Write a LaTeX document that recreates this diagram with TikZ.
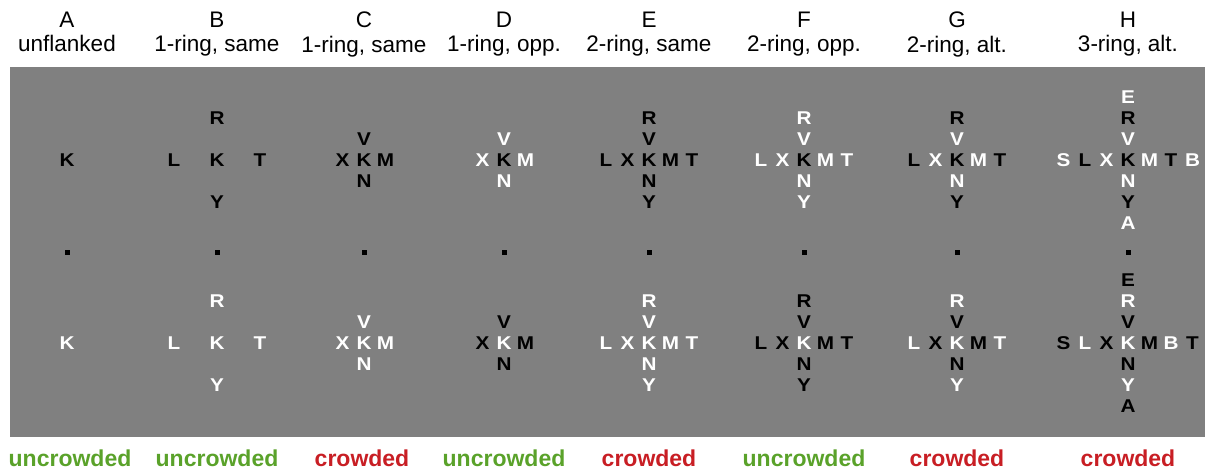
\documentclass[tikz,border=0pt]{standalone}
\usepackage{fontspec}
\setmainfont{Liberation Sans}
\newfontfamily\ltrfont{Liberation Sans}[FakeStretch=1.12]
\definecolor{okgreen}{RGB}{90,162,42}
\definecolor{badred}{RGB}{200,30,36}
\begin{document}
\begin{tikzpicture}[x=1pt,y=-1pt,
  ltr/.style={font=\ltrfont\bfseries\fontsize{18.5}{18.5}\selectfont, inner sep=0pt, text height=13.2pt, text depth=0pt},
  head/.style={font=\fontsize{22.5}{24.8}\selectfont, inner sep=0pt, align=center, anchor=north},
  lab/.style={font=\bfseries\fontsize{23}{23}\selectfont, inner sep=0pt, anchor=base},
  fixdot/.style={fill=black, minimum size=5pt, inner sep=0pt}]
\useasboundingbox (0,0) rectangle (1205,472);
\fill[gray] (10,67) rectangle (1205,437);
% column headings
\node[head] (hA) at (67,11.5) {A\\unflanked};
\node[head] (hB) at (217,11.5) {B\\1-ring, same};
\node[head] (hC) at (364,11.5) {C\\1-ring, same};
\node[head] (hD) at (504,11.5) {D\\1-ring, opp.};
\node[head] (hE) at (649,11.5) {E\\2-ring, same};
\node[head] (hF) at (804,11.5) {F\\2-ring, opp.};
\node[head] (hG) at (957,11.5) {G\\2-ring, alt.};
\node[head] (hH) at (1128,11.5) {H\\3-ring, alt.};
% fixation dots
\node[fixdot] (fA) at (67,252) {};
\node[fixdot] (fB) at (217,252) {};
\node[fixdot] (fC) at (364,252) {};
\node[fixdot] (fD) at (504,252) {};
\node[fixdot] (fE) at (649,252) {};
\node[fixdot] (fF) at (804,252) {};
\node[fixdot] (fG) at (957,252) {};
\node[fixdot] (fH) at (1128,252) {};
% A
\node[ltr,color=black] (At-K) at (67,160) {K};
\node[ltr,color=white] (Ab-K) at (67,343) {K};
% B
\node[ltr,color=black] (Bt-K) at (217,160) {K};
\node[ltr,color=black] (Bt-R) at (217,118) {R};
\node[ltr,color=black] (Bt-Y) at (217,202) {Y};
\node[ltr,color=black] (Bt-L) at (174,160) {L};
\node[ltr,color=black] (Bt-T) at (260,160) {T};
\node[ltr,color=white] (Bb-K) at (217,343) {K};
\node[ltr,color=white] (Bb-R) at (217,301) {R};
\node[ltr,color=white] (Bb-Y) at (217,385) {Y};
\node[ltr,color=white] (Bb-L) at (174,343) {L};
\node[ltr,color=white] (Bb-T) at (260,343) {T};
% C
\node[ltr,color=black] (Ct-K) at (364,160) {K};
\node[ltr,color=black] (Ct-V) at (364,139) {V};
\node[ltr,color=black] (Ct-N) at (364,181) {N};
\node[ltr,color=black] (Ct-X) at (342.5,160) {X};
\node[ltr,color=black] (Ct-M) at (385.5,160) {M};
\node[ltr,color=white] (Cb-K) at (364,343) {K};
\node[ltr,color=white] (Cb-V) at (364,322) {V};
\node[ltr,color=white] (Cb-N) at (364,364) {N};
\node[ltr,color=white] (Cb-X) at (342.5,343) {X};
\node[ltr,color=white] (Cb-M) at (385.5,343) {M};
% D
\node[ltr,color=black] (Dt-K) at (504,160) {K};
\node[ltr,color=white] (Dt-V) at (504,139) {V};
\node[ltr,color=white] (Dt-N) at (504,181) {N};
\node[ltr,color=white] (Dt-X) at (482.5,160) {X};
\node[ltr,color=white] (Dt-M) at (525.5,160) {M};
\node[ltr,color=white] (Db-K) at (504,343) {K};
\node[ltr,color=black] (Db-V) at (504,322) {V};
\node[ltr,color=black] (Db-N) at (504,364) {N};
\node[ltr,color=black] (Db-X) at (482.5,343) {X};
\node[ltr,color=black] (Db-M) at (525.5,343) {M};
% E
\node[ltr,color=black] (Et-K) at (649,160) {K};
\node[ltr,color=black] (Et-R) at (649,118) {R};
\node[ltr,color=black] (Et-V) at (649,139) {V};
\node[ltr,color=black] (Et-N) at (649,181) {N};
\node[ltr,color=black] (Et-Y) at (649,202) {Y};
\node[ltr,color=black] (Et-L) at (606,160) {L};
\node[ltr,color=black] (Et-X) at (627.5,160) {X};
\node[ltr,color=black] (Et-M) at (670.5,160) {M};
\node[ltr,color=black] (Et-T) at (692,160) {T};
\node[ltr,color=white] (Eb-K) at (649,343) {K};
\node[ltr,color=white] (Eb-R) at (649,301) {R};
\node[ltr,color=white] (Eb-V) at (649,322) {V};
\node[ltr,color=white] (Eb-N) at (649,364) {N};
\node[ltr,color=white] (Eb-Y) at (649,385) {Y};
\node[ltr,color=white] (Eb-L) at (606,343) {L};
\node[ltr,color=white] (Eb-X) at (627.5,343) {X};
\node[ltr,color=white] (Eb-M) at (670.5,343) {M};
\node[ltr,color=white] (Eb-T) at (692,343) {T};
% F
\node[ltr,color=black] (Ft-K) at (804,160) {K};
\node[ltr,color=white] (Ft-R) at (804,118) {R};
\node[ltr,color=white] (Ft-V) at (804,139) {V};
\node[ltr,color=white] (Ft-N) at (804,181) {N};
\node[ltr,color=white] (Ft-Y) at (804,202) {Y};
\node[ltr,color=white] (Ft-L) at (761,160) {L};
\node[ltr,color=white] (Ft-X) at (782.5,160) {X};
\node[ltr,color=white] (Ft-M) at (825.5,160) {M};
\node[ltr,color=white] (Ft-T) at (847,160) {T};
\node[ltr,color=white] (Fb-K) at (804,343) {K};
\node[ltr,color=black] (Fb-R) at (804,301) {R};
\node[ltr,color=black] (Fb-V) at (804,322) {V};
\node[ltr,color=black] (Fb-N) at (804,364) {N};
\node[ltr,color=black] (Fb-Y) at (804,385) {Y};
\node[ltr,color=black] (Fb-L) at (761,343) {L};
\node[ltr,color=black] (Fb-X) at (782.5,343) {X};
\node[ltr,color=black] (Fb-M) at (825.5,343) {M};
\node[ltr,color=black] (Fb-T) at (847,343) {T};
% G
\node[ltr,color=black] (Gt-K) at (957,160) {K};
\node[ltr,color=black] (Gt-R) at (957,118) {R};
\node[ltr,color=white] (Gt-V) at (957,139) {V};
\node[ltr,color=white] (Gt-N) at (957,181) {N};
\node[ltr,color=black] (Gt-Y) at (957,202) {Y};
\node[ltr,color=black] (Gt-L) at (914,160) {L};
\node[ltr,color=white] (Gt-X) at (935.5,160) {X};
\node[ltr,color=white] (Gt-M) at (978.5,160) {M};
\node[ltr,color=black] (Gt-T) at (1000,160) {T};
\node[ltr,color=white] (Gb-K) at (957,343) {K};
\node[ltr,color=white] (Gb-R) at (957,301) {R};
\node[ltr,color=black] (Gb-V) at (957,322) {V};
\node[ltr,color=black] (Gb-N) at (957,364) {N};
\node[ltr,color=white] (Gb-Y) at (957,385) {Y};
\node[ltr,color=white] (Gb-L) at (914,343) {L};
\node[ltr,color=black] (Gb-X) at (935.5,343) {X};
\node[ltr,color=black] (Gb-M) at (978.5,343) {M};
\node[ltr,color=white] (Gb-T) at (1000,343) {T};
% H
\node[ltr,color=black] (Ht-K) at (1128,160) {K};
\node[ltr,color=white] (Ht-E) at (1128,97) {E};
\node[ltr,color=black] (Ht-R) at (1128,118) {R};
\node[ltr,color=white] (Ht-V) at (1128,139) {V};
\node[ltr,color=white] (Ht-N) at (1128,181) {N};
\node[ltr,color=black] (Ht-Y) at (1128,202) {Y};
\node[ltr,color=white] (Ht-A) at (1128,223) {A};
\node[ltr,color=white] (Ht-S) at (1063.5,160) {S};
\node[ltr,color=black] (Ht-L) at (1085,160) {L};
\node[ltr,color=white] (Ht-X) at (1106.5,160) {X};
\node[ltr,color=white] (Ht-M) at (1149.5,160) {M};
\node[ltr,color=black] (Ht-T) at (1171,160) {T};
\node[ltr,color=white] (Ht-B) at (1192.5,160) {B};
\node[ltr,color=white] (Hb-K) at (1128,343) {K};
\node[ltr,color=black] (Hb-E) at (1128,280) {E};
\node[ltr,color=white] (Hb-R) at (1128,301) {R};
\node[ltr,color=black] (Hb-V) at (1128,322) {V};
\node[ltr,color=black] (Hb-N) at (1128,364) {N};
\node[ltr,color=white] (Hb-Y) at (1128,385) {Y};
\node[ltr,color=black] (Hb-A) at (1128,406) {A};
\node[ltr,color=black] (Hb-S) at (1063.5,343) {S};
\node[ltr,color=white] (Hb-L) at (1085,343) {L};
\node[ltr,color=black] (Hb-X) at (1106.5,343) {X};
\node[ltr,color=black] (Hb-M) at (1149.5,343) {M};
\node[ltr,color=white] (Hb-B) at (1171,343) {B};
\node[ltr,color=black] (Hb-T) at (1192.5,343) {T};
% verdicts
\node[lab,color=okgreen] (vA) at (70,466) {uncrowded};
\node[lab,color=okgreen] (vB) at (217,466) {uncrowded};
\node[lab,color=badred] (vC) at (362,466) {crowded};
\node[lab,color=okgreen] (vD) at (504,466) {uncrowded};
\node[lab,color=badred] (vE) at (649,466) {crowded};
\node[lab,color=okgreen] (vF) at (804,466) {uncrowded};
\node[lab,color=badred] (vG) at (957,466) {crowded};
\node[lab,color=badred] (vH) at (1128,466) {crowded};
\end{tikzpicture}
\end{document}
